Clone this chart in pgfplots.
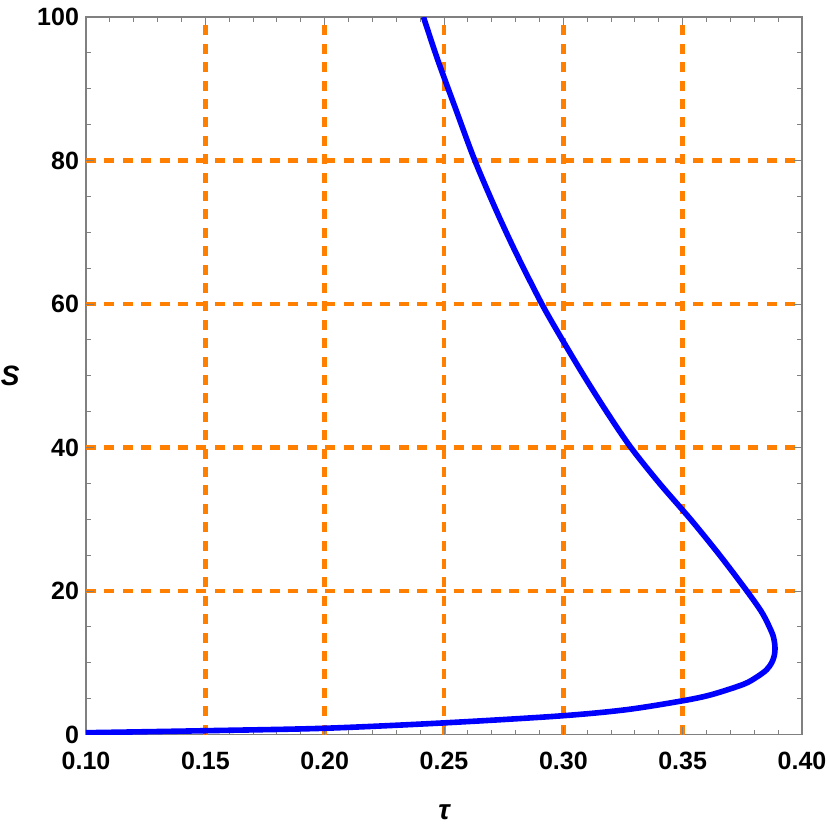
\documentclass[border=0pt]{standalone}
\usepackage{fontspec}
\setmainfont{Liberation Sans}
\usepackage{pgfplots}
\pgfplotsset{compat=1.18}
\definecolor{gridorange}{RGB}{255,128,0}
\definecolor{framegray}{RGB}{128,128,128}
\definecolor{curveblue}{RGB}{0,0,255}
\begin{document}
\begin{tikzpicture}
\begin{axis}[
  scale only axis,
  width=358pt, height=358.75pt,
  xmin=0.1, xmax=0.4, ymin=0, ymax=100,
  xtick={0.10,0.15,0.20,0.25,0.30,0.35,0.40},
  xticklabels={0.10,0.15,0.20,0.25,0.30,0.35,0.40},
  ytick={0,20,40,60,80,100},
  yticklabels={0,20,40,60,80,100},
  minor x tick num=4, minor y tick num=3,
  tick align=inside,
  xtick pos=both, ytick pos=both,
  major tick length=4pt, minor tick length=2.5pt,
  axis line style={framegray, line width=0.75pt},
  every tick/.style={framegray, line width=0.5pt},
  grid=none,
  extra x ticks={0.15,0.20,0.25,0.30,0.35},
  extra x tick labels={},
  extra y ticks={20,40,60,80},
  extra y tick labels={},
  extra tick style={grid=major},
  major grid style={gridorange, line width=2.2pt, dash pattern=on 5pt off 4.2pt},
  tick label style={font=\fontsize{12.5}{14}\selectfont\bfseries},
  /pgf/number format/assume math mode=true,
  xticklabel style={yshift=-5pt},
  xlabel={\bfseries\itshape τ},
  ylabel={\bfseries\itshape S},
  xlabel style={font=\fontsize{14}{16}\selectfont, at={(axis description cs:0.5,-0.1087)}, anchor=center},
  ylabel style={font=\fontsize{14}{16}\selectfont, rotate=-90, at={(axis description cs:-0.106,0.5)}, anchor=center},
]
\addplot[curveblue, line width=2.8pt, smooth] coordinates {
(0.100, 0.25)
(0.150, 0.53)
(0.200, 0.87)
(0.250, 1.62)
(0.2983, 2.58)
(0.3262, 3.45)
(0.3500, 4.70)
(0.3620, 5.55)
(0.3755, 7.00)
(0.3810, 8.00)
(0.3851, 9.00)
(0.3873, 10.0)
(0.3884, 11.0)
(0.3887, 12.0)
(0.3884, 13.0)
(0.3874, 14.2)
(0.3834, 16.9)
(0.3769, 20.0)
(0.3655, 25.0)
(0.3533, 30.0)
(0.3403, 35.0)
(0.3283, 40.0)
(0.3181, 45.0)
(0.3086, 50.0)
(0.2996, 55.0)
(0.2910, 60.0)
(0.2802, 67.1)
(0.2718, 73.1)
(0.2628, 80.1)
(0.2551, 87.0)
(0.2474, 94.0)
(0.2414, 100)
};
\end{axis}
\pgfresetboundingbox
\path ([xshift=-43pt, yshift=-45.75pt]current axis.south west) rectangle ([xshift=14pt, yshift=8.5pt]current axis.north east);
\end{tikzpicture}
\end{document}
